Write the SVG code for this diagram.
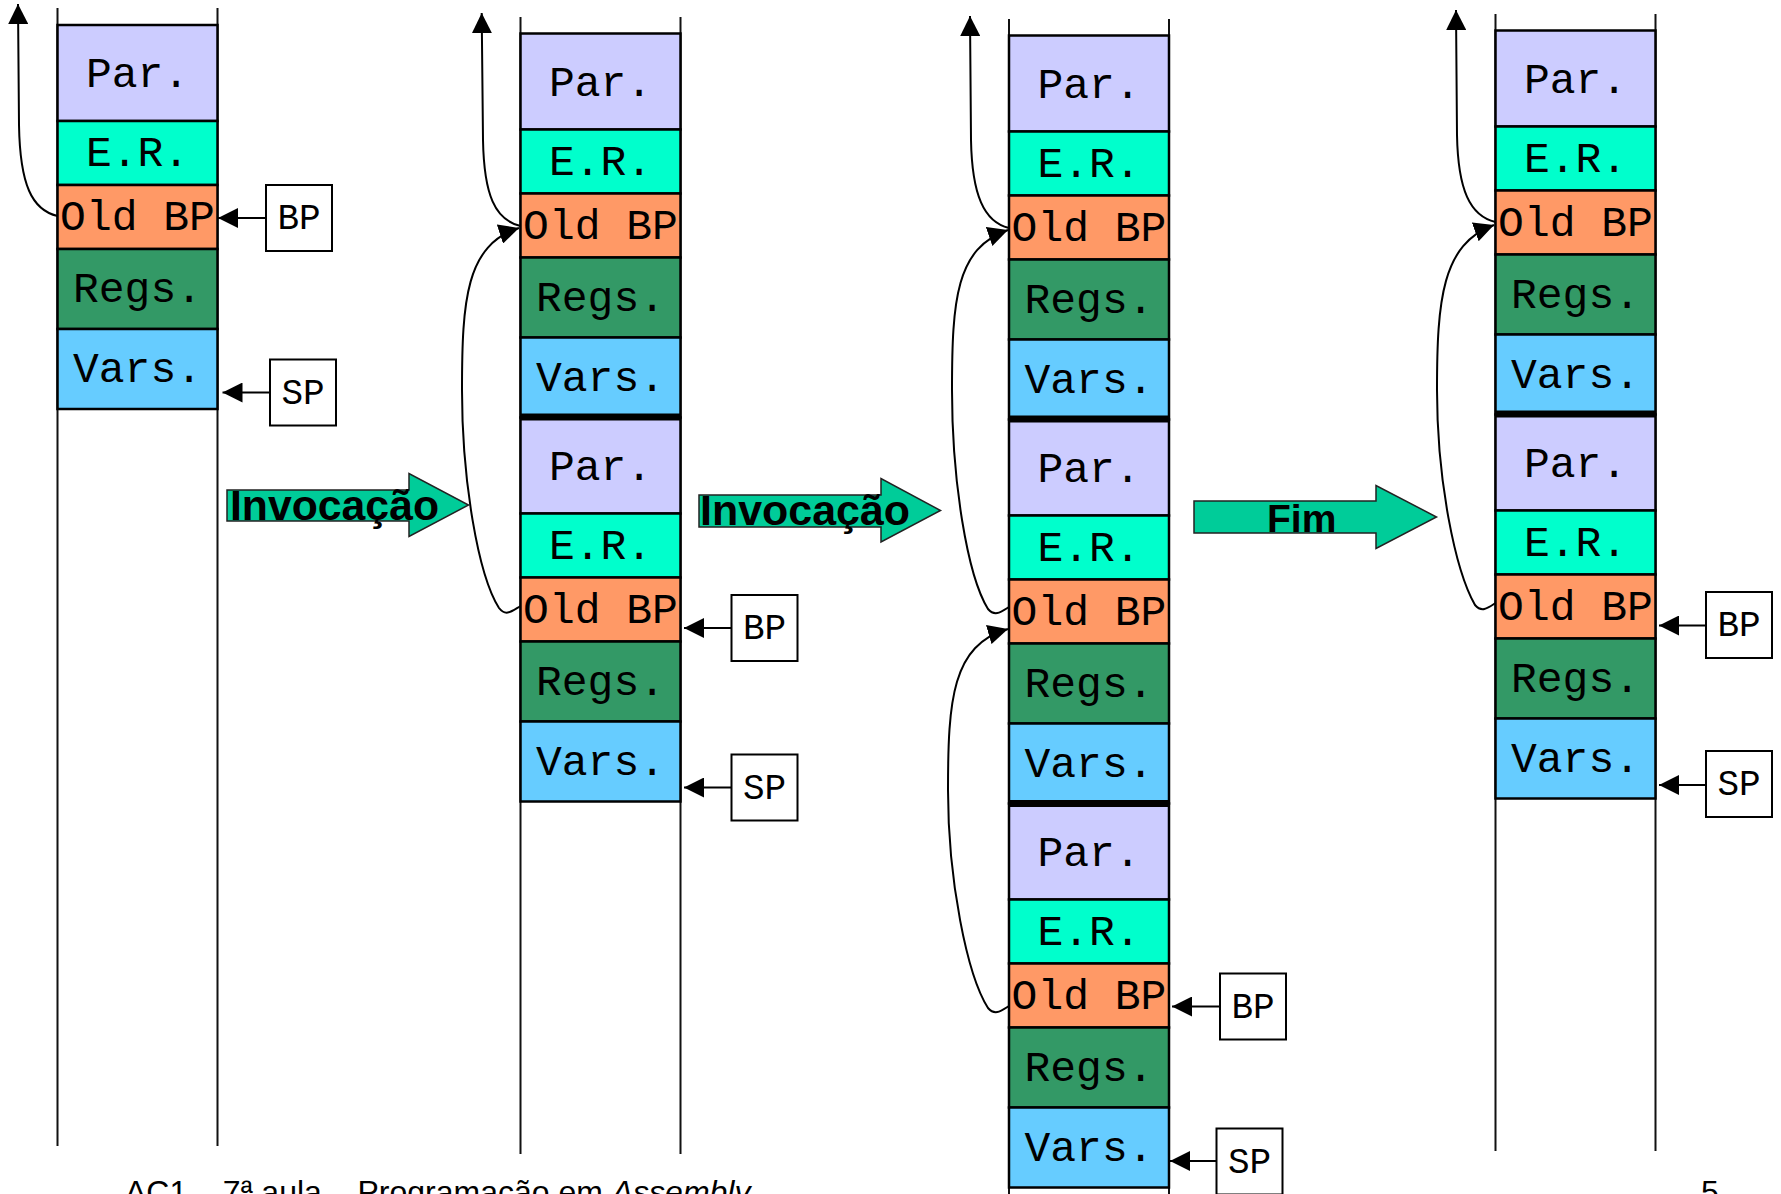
<svg xmlns="http://www.w3.org/2000/svg" width="1781" height="1194" viewBox="0 0 1781 1194">
<style>
.par{fill:#CCCCFF}
.er{fill:#00FFCC}
.obp{fill:#FF9966}
.regs{fill:#339966}
.vars{fill:#66CCFF}
rect.c{stroke:#000;stroke-width:2.5}
.lbl{font-family:"Liberation Mono","Courier New",monospace;font-size:43px;fill:#000;text-anchor:middle}
.side{stroke:#111;stroke-width:2}
.bar{stroke:#000;stroke-width:7}
.ptr rect{fill:#fff;stroke:#000;stroke-width:2}
.ptr text{font-family:"Liberation Mono","Courier New",monospace;font-size:36px;fill:#000;text-anchor:middle}
.link{fill:none;stroke:#000;stroke-width:2}
.big{fill:#00CC99;stroke:#222;stroke-width:1.5}
.bigt{font-family:"Liberation Sans",Arial,sans-serif;font-weight:bold;fill:#000}
.foot{font-family:"Liberation Sans",Arial,sans-serif;font-size:32px;fill:#000}
</style>
<defs>
<marker id="ah" markerUnits="userSpaceOnUse" markerWidth="20" markerHeight="20" refX="20" refY="10" orient="auto">
<path d="M0,0 L20,10 L0,20 Z" fill="#000"/>
</marker>
</defs>
<rect width="1781" height="1194" fill="#fff"/>

<g id="stack1">
<line class="side" x1="57.5" y1="8" x2="57.5" y2="1146"/>
<line class="side" x1="217.5" y1="8" x2="217.5" y2="1146"/>
<g id="s1f1">
<g id="s1f1-par"><rect class="c par" x="57.5" y="25" width="160" height="96"/><text class="lbl" x="137.5" y="87">Par.</text></g>
<g id="s1f1-er"><rect class="c er" x="57.5" y="121" width="160" height="64"/><text class="lbl" x="137.5" y="166">E.R.</text></g>
<g id="s1f1-obp"><rect class="c obp" x="57.5" y="185" width="160" height="64"/><text class="lbl" x="137.5" y="230">Old BP</text></g>
<g id="s1f1-regs"><rect class="c regs" x="57.5" y="249" width="160" height="80"/><text class="lbl" x="137.5" y="302">Regs.</text></g>
<g id="s1f1-vars"><rect class="c vars" x="57.5" y="329" width="160" height="80"/><text class="lbl" x="137.5" y="382">Vars.</text></g>
</g>
</g>

<g id="stack2">
<line class="side" x1="520.5" y1="17" x2="520.5" y2="1154"/>
<line class="side" x1="680.5" y1="17" x2="680.5" y2="1154"/>
<g id="s2f1">
<g id="s2f1-par"><rect class="c par" x="520.5" y="33.5" width="160" height="96"/><text class="lbl" x="600.5" y="95.5">Par.</text></g>
<g id="s2f1-er"><rect class="c er" x="520.5" y="129.5" width="160" height="64"/><text class="lbl" x="600.5" y="174.5">E.R.</text></g>
<g id="s2f1-obp"><rect class="c obp" x="520.5" y="193.5" width="160" height="64"/><text class="lbl" x="600.5" y="238.5">Old BP</text></g>
<g id="s2f1-regs"><rect class="c regs" x="520.5" y="257.5" width="160" height="80"/><text class="lbl" x="600.5" y="310.5">Regs.</text></g>
<g id="s2f1-vars"><rect class="c vars" x="520.5" y="337.5" width="160" height="80"/><text class="lbl" x="600.5" y="390.5">Vars.</text></g>
</g>
<g id="s2f2">
<g id="s2f2-par"><rect class="c par" x="520.5" y="417.5" width="160" height="96"/><text class="lbl" x="600.5" y="479.5">Par.</text></g>
<g id="s2f2-er"><rect class="c er" x="520.5" y="513.5" width="160" height="64"/><text class="lbl" x="600.5" y="558.5">E.R.</text></g>
<g id="s2f2-obp"><rect class="c obp" x="520.5" y="577.5" width="160" height="64"/><text class="lbl" x="600.5" y="622.5">Old BP</text></g>
<g id="s2f2-regs"><rect class="c regs" x="520.5" y="641.5" width="160" height="80"/><text class="lbl" x="600.5" y="694.5">Regs.</text></g>
<g id="s2f2-vars"><rect class="c vars" x="520.5" y="721.5" width="160" height="80"/><text class="lbl" x="600.5" y="774.5">Vars.</text></g>
</g>
<line class="bar" x1="520.5" y1="417" x2="680.5" y2="417"/>
</g>

<g id="stack3">
<line class="side" x1="1009" y1="19" x2="1009" y2="1194"/>
<line class="side" x1="1169" y1="19" x2="1169" y2="1194"/>
<g id="s3f1">
<g id="s3f1-par"><rect class="c par" x="1009" y="35.5" width="160" height="96"/><text class="lbl" x="1089" y="97.5">Par.</text></g>
<g id="s3f1-er"><rect class="c er" x="1009" y="131.5" width="160" height="64"/><text class="lbl" x="1089" y="176.5">E.R.</text></g>
<g id="s3f1-obp"><rect class="c obp" x="1009" y="195.5" width="160" height="64"/><text class="lbl" x="1089" y="240.5">Old BP</text></g>
<g id="s3f1-regs"><rect class="c regs" x="1009" y="259.5" width="160" height="80"/><text class="lbl" x="1089" y="312.5">Regs.</text></g>
<g id="s3f1-vars"><rect class="c vars" x="1009" y="339.5" width="160" height="80"/><text class="lbl" x="1089" y="392.5">Vars.</text></g>
</g>
<g id="s3f2">
<g id="s3f2-par"><rect class="c par" x="1009" y="419.5" width="160" height="96"/><text class="lbl" x="1089" y="481.5">Par.</text></g>
<g id="s3f2-er"><rect class="c er" x="1009" y="515.5" width="160" height="64"/><text class="lbl" x="1089" y="560.5">E.R.</text></g>
<g id="s3f2-obp"><rect class="c obp" x="1009" y="579.5" width="160" height="64"/><text class="lbl" x="1089" y="624.5">Old BP</text></g>
<g id="s3f2-regs"><rect class="c regs" x="1009" y="643.5" width="160" height="80"/><text class="lbl" x="1089" y="696.5">Regs.</text></g>
<g id="s3f2-vars"><rect class="c vars" x="1009" y="723.5" width="160" height="80"/><text class="lbl" x="1089" y="776.5">Vars.</text></g>
</g>
<g id="s3f3">
<g id="s3f3-par"><rect class="c par" x="1009" y="803.5" width="160" height="96"/><text class="lbl" x="1089" y="865.5">Par.</text></g>
<g id="s3f3-er"><rect class="c er" x="1009" y="899.5" width="160" height="64"/><text class="lbl" x="1089" y="944.5">E.R.</text></g>
<g id="s3f3-obp"><rect class="c obp" x="1009" y="963.5" width="160" height="64"/><text class="lbl" x="1089" y="1008.5">Old BP</text></g>
<g id="s3f3-regs"><rect class="c regs" x="1009" y="1027.5" width="160" height="80"/><text class="lbl" x="1089" y="1080.5">Regs.</text></g>
<g id="s3f3-vars"><rect class="c vars" x="1009" y="1107.5" width="160" height="80"/><text class="lbl" x="1089" y="1160.5">Vars.</text></g>
</g>
<line class="bar" x1="1009" y1="419" x2="1169" y2="419"/>
<line class="bar" x1="1009" y1="803.5" x2="1169" y2="803.5"/>
</g>

<g id="stack4">
<line class="side" x1="1495.5" y1="14" x2="1495.5" y2="1151"/>
<line class="side" x1="1655.5" y1="14" x2="1655.5" y2="1151"/>
<g id="s4f1">
<g id="s4f1-par"><rect class="c par" x="1495.5" y="30.5" width="160" height="96"/><text class="lbl" x="1575.5" y="92.5">Par.</text></g>
<g id="s4f1-er"><rect class="c er" x="1495.5" y="126.5" width="160" height="64"/><text class="lbl" x="1575.5" y="171.5">E.R.</text></g>
<g id="s4f1-obp"><rect class="c obp" x="1495.5" y="190.5" width="160" height="64"/><text class="lbl" x="1575.5" y="235.5">Old BP</text></g>
<g id="s4f1-regs"><rect class="c regs" x="1495.5" y="254.5" width="160" height="80"/><text class="lbl" x="1575.5" y="307.5">Regs.</text></g>
<g id="s4f1-vars"><rect class="c vars" x="1495.5" y="334.5" width="160" height="80"/><text class="lbl" x="1575.5" y="387.5">Vars.</text></g>
</g>
<g id="s4f2">
<g id="s4f2-par"><rect class="c par" x="1495.5" y="414.5" width="160" height="96"/><text class="lbl" x="1575.5" y="476.5">Par.</text></g>
<g id="s4f2-er"><rect class="c er" x="1495.5" y="510.5" width="160" height="64"/><text class="lbl" x="1575.5" y="555.5">E.R.</text></g>
<g id="s4f2-obp"><rect class="c obp" x="1495.5" y="574.5" width="160" height="64"/><text class="lbl" x="1575.5" y="619.5">Old BP</text></g>
<g id="s4f2-regs"><rect class="c regs" x="1495.5" y="638.5" width="160" height="80"/><text class="lbl" x="1575.5" y="691.5">Regs.</text></g>
<g id="s4f2-vars"><rect class="c vars" x="1495.5" y="718.5" width="160" height="80"/><text class="lbl" x="1575.5" y="771.5">Vars.</text></g>
</g>
<line class="bar" x1="1495.5" y1="414" x2="1655.5" y2="414"/>
</g>

<g id="ptr-bp1" class="ptr"><rect x="266" y="185" width="66" height="66"/><text x="299" y="229">BP</text></g>
<g id="ptr-sp1" class="ptr"><rect x="270" y="359.5" width="66" height="66"/><text x="303" y="403.5">SP</text></g>
<g id="ptr-bp2" class="ptr"><rect x="731.5" y="595" width="66" height="66"/><text x="764.5" y="639">BP</text></g>
<g id="ptr-sp2" class="ptr"><rect x="731.5" y="754.5" width="66" height="66"/><text x="764.5" y="798.5">SP</text></g>
<g id="ptr-bp3" class="ptr"><rect x="1220" y="973.5" width="66" height="66"/><text x="1253" y="1017.5">BP</text></g>
<g id="ptr-sp3" class="ptr"><rect x="1216.5" y="1128.5" width="66" height="66"/><text x="1249.5" y="1172.5">SP</text></g>
<g id="ptr-bp4" class="ptr"><rect x="1706" y="592" width="66" height="66"/><text x="1739" y="636">BP</text></g>
<g id="ptr-sp4" class="ptr"><rect x="1706" y="751" width="66" height="66"/><text x="1739" y="795">SP</text></g>

<g id="step-invocacao1">
<polygon class="big" points="227,490 409,490 409,473.5 468.5,505 409,536.5 409,521 227,521"/>
<text class="bigt" x="230" y="520" font-size="42" textLength="209" lengthAdjust="spacingAndGlyphs">Invocação</text>
</g>
<g id="step-invocacao2">
<polygon class="big" points="699,495 881,495 881,478.5 940.5,510.5 881,542 881,527 699,527"/>
<text class="bigt" x="700" y="525" font-size="42" textLength="210" lengthAdjust="spacingAndGlyphs">Invocação</text>
</g>
<g id="step-fim">
<polygon class="big" points="1194,501 1376,501 1376,485.5 1436.5,517 1376,548.5 1376,533 1194,533"/>
<text class="bigt" x="1267" y="531.5" font-size="39">Fim</text>
</g>

<g id="connectors">
<line class="link" x1="266" y1="218" x2="218" y2="218" marker-end="url(#ah)"/>
<line class="link" x1="270" y1="392.5" x2="222.5" y2="392.5" marker-end="url(#ah)"/>
<line class="link" x1="731.5" y1="628" x2="684" y2="628" marker-end="url(#ah)"/>
<line class="link" x1="731.5" y1="787.5" x2="684" y2="787.5" marker-end="url(#ah)"/>
<line class="link" x1="1220" y1="1006.5" x2="1172" y2="1006.5" marker-end="url(#ah)"/>
<line class="link" x1="1216.5" y1="1161" x2="1170" y2="1161" marker-end="url(#ah)"/>
<line class="link" x1="1706" y1="625.5" x2="1659" y2="625.5" marker-end="url(#ah)"/>
<line class="link" x1="1706" y1="785" x2="1659" y2="785" marker-end="url(#ah)"/>

<path class="link" d="M57.5,216 C32,210 20,185 19,125 L18,4" marker-end="url(#ah)"/>
<path class="link" d="M520.5,226 C495,220 484,195 483,140 L481.7,13" marker-end="url(#ah)"/>
<path class="link" d="M1009,228 C984,222 972,195 971,140 L970,16" marker-end="url(#ah)"/>
<path class="link" d="M1495.5,222 C1470,216 1458,190 1457,135 L1456,10" marker-end="url(#ah)"/>

<path class="link" d="M520.5,606 C512,611 506,617 499,608 C478,575 462,480 462,390 C462,300 466,245 519,228" marker-end="url(#ah)"/>
<path class="link" d="M1009,607 C1001,612 995,617 988,609 C967,575 952,480 952,390 C952,300 956,248 1008,230" marker-end="url(#ah)"/>
<path class="link" d="M1009,1006 C1001,1011 995,1016 988,1008 C967,975 948,880 948,790 C948,700 952,645 1008,629" marker-end="url(#ah)"/>
<path class="link" d="M1495.5,603 C1488,608 1482,613 1475,605 C1455,570 1437,480 1437,390 C1437,300 1442,244 1494,225" marker-end="url(#ah)"/>
</g>

<g id="footer">
<text class="foot" x="125" y="1203">AC1 – 7ª aula – Programação em <tspan font-style="italic">Assembly</tspan></text>
<text class="foot" x="1701" y="1203">5</text>
</g>
</svg>
